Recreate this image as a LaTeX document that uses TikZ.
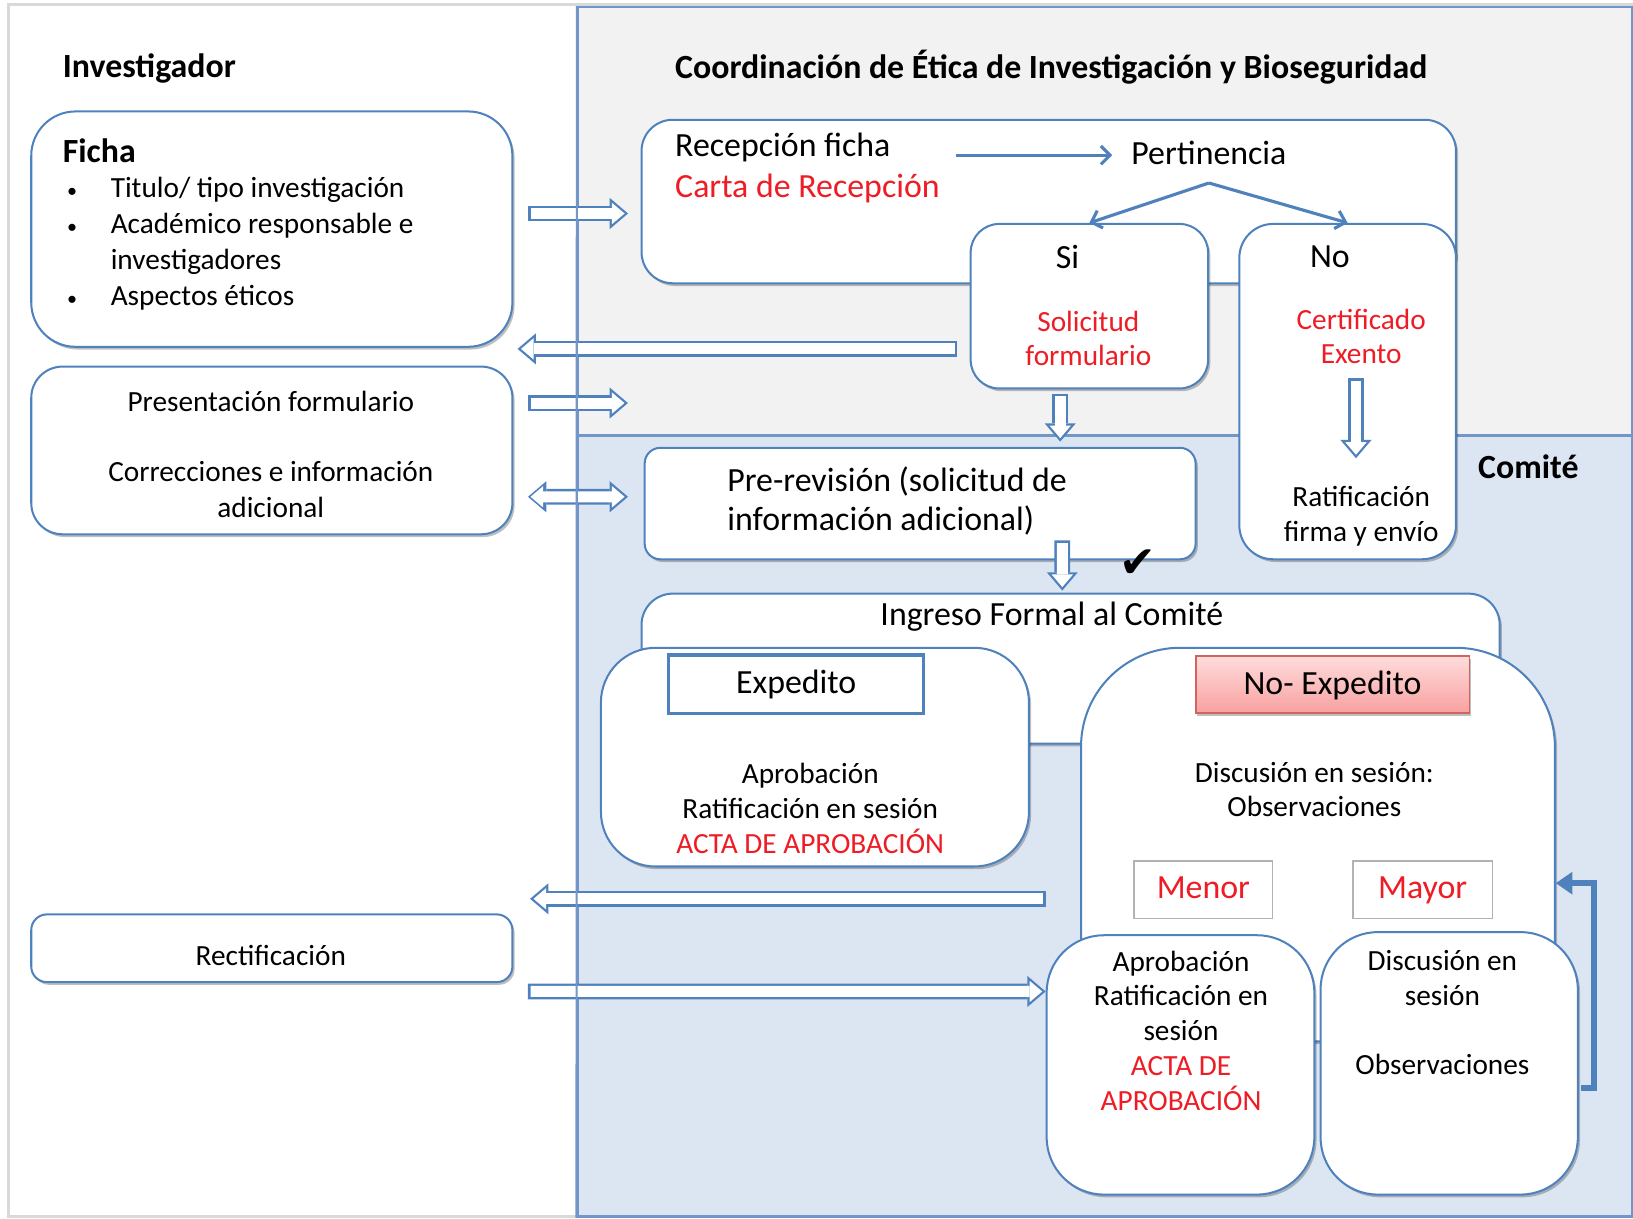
\documentclass[tikz,border=0pt]{standalone}
\usepackage{fontspec}
\setmainfont{Carlito}
\newfontfamily\symfont{DejaVu Sans}
\usetikzlibrary{arrows.meta,calc,fit,shadows}

\definecolor{bline}{RGB}{79,129,189}
\definecolor{pline}{RGB}{115,150,200}
\definecolor{coordfill}{RGB}{242,242,242}
\definecolor{comfill}{RGB}{220,230,242}
\definecolor{rtext}{RGB}{238,28,36}
\definecolor{pinktop}{RGB}{255,220,220}
\definecolor{pinkbot}{RGB}{248,160,160}
\definecolor{pinkline}{RGB}{210,100,96}

\newcommand{\bul}{\makebox[0.92cm][l]{\hspace{0.08cm}{\fontsize{11}{11}\selectfont\textbullet}}}

\begin{document}
\begin{tikzpicture}[x=0.02cm, y=-0.02cm,
		box/.style={draw=bline, line width=1.1pt, fill=white, rounded corners=#1, inner sep=0pt,
			drop shadow={shadow xshift=1.2pt, shadow yshift=-1.5pt, fill=black, opacity=.25}},
		bigtext/.style={font=\fontsize{18.5}{21.5}\selectfont, inner sep=0pt},
		smalltext/.style={font=\fontsize{16}{19}\selectfont, inner sep=0pt, align=center},
		head/.style={font=\fontsize{18.5}{21.5}\selectfont\bfseries, inner sep=0pt, anchor=west},
		blockarrow/.style={draw=bline, line width=8.6pt, >={Triangle[length=10pt,width=17pt,line width=0pt]}, #1,
			postaction={draw=white, line width=6pt, shorten <=1.4pt, shorten >=1.9pt,
				>={Triangle[length=6.9pt,width=11.7pt,line width=0pt]}, #1}},
		blockarrow/.default=->,
		thinarrow/.style={draw=bline, line width=1.7pt, -{Straight Barb[length=5pt,width=10pt]}},
		fbarrow/.style={draw=bline, line width=3.3pt, -{Triangle[length=9pt,width=12.5pt,line width=0pt]}}]
	\useasboundingbox (0,0) rectangle (1568,1170);
	\draw[black!15, line width=1.6pt] (8,4) rectangle (1568,1168);
	\node[fit={(555,7) (1567,418)}, draw=pline, fill=coordfill, line width=1.2pt, inner sep=0pt] (Coord) {};
	\node[fit={(555,418) (1567,1168)}, draw=pline, fill=comfill, line width=1.6pt, inner sep=0pt] (Comite) {};
	
	\node[box=0.85cm, fit={(30,107) (492,333)}] (Ficha) {};
	\node[box=0.6cm, fit={(30,352) (492,513)}] (Pres) {};
	\node[box=0.3cm, fit={(30,878) (492,943)}] (Rect) {};
	\node[box=0.6cm, fit={(616,115) (1398,272)}] (Recep) {};
	\node[box=0.55cm, fit={(932,215) (1160,373)}] (Si) {};
	\node[box=0.65cm, fit={(1190,215) (1398,537)}] (No) {};
	\node[box=0.3cm, fit={(619,430) (1148,537)}] (PreRev) {};
	\node[box=0.6cm, fit={(616,570) (1440,714)}] (Ing) {};
	\node[box=1.05cm, fit={(577,622) (988,832)}] (Exp) {};
	\node[box=1.9cm, fit={(1038,622) (1493,1000)}] (NoExp) {};
	\node[box=1.1cm, fit={(1005,898) (1262,1147)}] (Aprob) {};
	\node[box=1.1cm, fit={(1268,895) (1515,1147)}] (Disc) {};
	
	\node[bigtext, draw=bline, line width=1.8pt, fill=white, minimum width=4.9cm, minimum height=1.12cm, text depth=0.25em] (ExpL) at (764.5,657) {Expedito};
	\node[bigtext, draw=pinkline, line width=1pt, top color=pinktop, bottom color=pinkbot, minimum width=5.26cm, minimum height=1.1cm, text depth=0.25em,
		drop shadow={shadow xshift=1pt, shadow yshift=-1.5pt, fill=black, opacity=.25}] (NoExpL) at (1279.5,657.5) {No- Expedito};
	\node[bigtext, text=rtext, draw=black!30, line width=0.9pt, fill=white, minimum width=2.66cm, minimum height=1.1cm, text depth=0.25em] (Menor) at (1155.5,854.5) {Menor};
	\node[bigtext, text=rtext, draw=black!30, line width=0.9pt, fill=white, minimum width=2.68cm, minimum height=1.1cm, text depth=0.25em] (Mayor) at (1366,854.5) {Mayor};
	
	\node[head] (InvT) at (60,66) {Investigador};
	\node[head] (CoordT) at (648,64) {Coordinación de Ética de Investigación y Bioseguridad};
	\node[head] (ComT) at (1419,448) {Comité};
	\node[head] (FichaT) at (60,145) {Ficha};
	\node[smalltext, anchor=west, align=left, font=\fontsize{16}{19.85}\selectfont] (FichaL) at (60,234)
		{\bul Titulo/ tipo investigación\\ \bul Académico responsable e\\ \hspace*{0.92cm}investigadores\\ \bul Aspectos éticos};
	\node[smalltext] (PresT) at (260,385) {Presentación formulario};
	\node[smalltext, font=\fontsize{16}{19.85}\selectfont] (CorrT) at (260,470) {Correcciones e información\\adicional};
	\node[smalltext] (RectT) at (260,917) {Rectificación};
	\node[bigtext, anchor=west] (RecFi) at (648,142) {Recepción ficha};
	\node[bigtext, anchor=west, text=rtext] (Carta) at (648,181) {Carta de Recepción};
	\node[bigtext, anchor=west] (Pert) at (1086,147) {Pertinencia};
	\node[bigtext] (SiT) at (1025,247) {Si};
	\node[smalltext, text=rtext] (SolT) at (1045,325) {Solicitud\\formulario};
	\node[bigtext] (NoT) at (1277,247) {No};
	\node[smalltext, text=rtext] (CertT) at (1307,323) {Certificado\\Exento};
	\node[smalltext] (RatT) at (1307,496) {Ratificación\\firma y envío};
	\node[bigtext, anchor=west, align=left] (PreT) at (698,481) {Pre-revisión (solicitud de\\información adicional)};
	\node[bigtext] (IngT) at (1010,592) {Ingreso Formal al Comité};
	\node[smalltext] (ExpT) at (778,776) {Aprobación\\Ratificación en sesión\\\textcolor{rtext}{ACTA DE APROBACIÓN}};
	\node[smalltext] (DiscT) at (1262,758) {Discusión en sesión:\\Observaciones};
	\node[smalltext] (AprT) at (1134,989.5) {Aprobación\\Ratificación en\\sesión\\\textcolor{rtext}{ACTA DE}\\\textcolor{rtext}{APROBACIÓN}};
	\node[smalltext] (DisT) at (1385,972.5) {Discusión en\\sesión\\\mbox{}\\Observaciones};
	\node[font=\symfont\fontsize{24}{24}\selectfont, inner sep=0pt] (Check) at (1093,541) {✔};
	
	\draw[blockarrow] ($(Ficha.east)+(14,-15)$) -- ($(Recep.west)+(-12,11.5)$);
	\draw[blockarrow] ($(Si.west)+(-12,41)$) -- ($(Ficha.east |- Si.west)+(4,41)$);
	\draw[blockarrow] ($(Pres.east)+(14,-45.5)$) -- ($(Coord.west |- Pres.east)+(49,-45.5)$);
	\draw[blockarrow=<->] ($(Pres.east)+(14,44.5)$) -- ($(PreRev.west)+(-15,-6.5)$);
	\draw[blockarrow] ($(Si.south)+(-28,4)$) -- ($(PreRev.north -| Si.south)+(-28,-5)$);
	\draw[blockarrow] ($(No)+(8,-13)$) -- ($(No)+(8,64)$);
	\draw[blockarrow] ($(PreRev.south)+(136.5,-19)$) -- ($(Ing.north)+(-8,-2)$);
	\draw[blockarrow] ($(Aprob.north west)+(0,-34)$) -- ($(Rect.north east)+(16,-14)$);
	\draw[blockarrow] ($(Rect.east)+(14,41.5)$) -- ($(Aprob.west)+(0,-70.5)$);
	
	\coordinate (Split) at ($(Pert.south)+(0,17)$);
	\draw[thinarrow] ($(RecFi.east)+(63,7)$) -- ($(Pert.west)+(-18,2)$);
	\draw[thinarrow] (Split) -- (Si.north);
	\draw[thinarrow] (Split) -- (No.north);
	\draw[fbarrow] ($(Disc.east)+(2,24)$) -| ($(NoExp.east)+(37,37)$) -- ($(NoExp.east)+(0,37)$);
	\draw[pline, line width=1.2pt] (Coord.north west) -- (Comite.south west);
\end{tikzpicture}
\end{document}
